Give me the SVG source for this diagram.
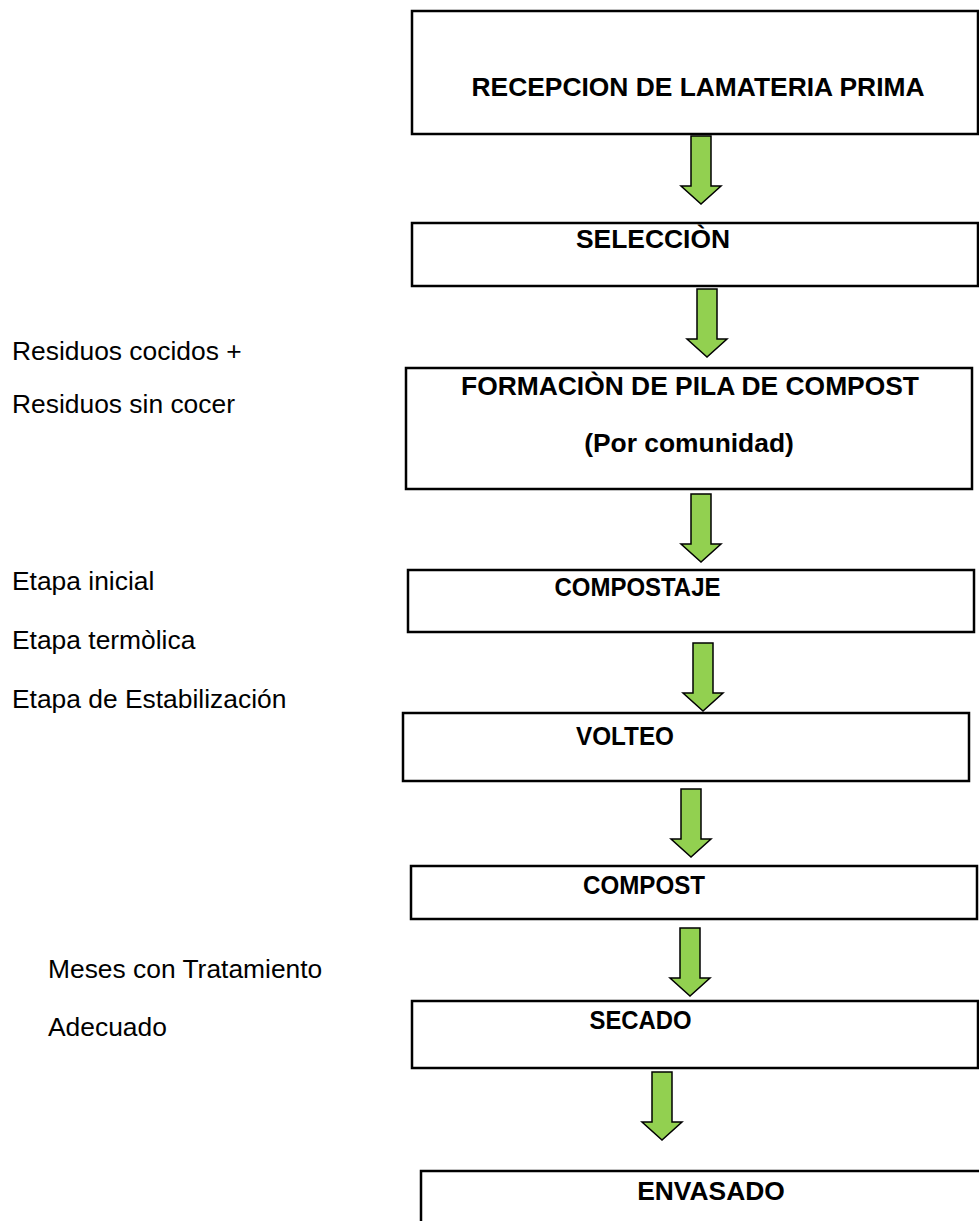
<svg xmlns="http://www.w3.org/2000/svg" width="979" height="1221" viewBox="0 0 979 1221">
<style>
.box{fill:#fff;stroke:#000;stroke-width:2.5}
.t{font-family:"Liberation Sans",Arial,sans-serif;font-size:26.4px;font-weight:bold;fill:#000;text-anchor:middle}
.l{font-family:"Liberation Sans",Arial,sans-serif;font-size:26.4px;fill:#000}
.arr{fill:#92d050;stroke:#000;stroke-width:1.5;stroke-linejoin:miter}
</style>
<defs>
<path id="ar" d="M-10,0 H10 V50 H20 L0,68 L-20,50 H-10 Z"/>
</defs>
<rect width="979" height="1221" fill="#fff"/>
<g id="connectors">
<use href="#ar" class="arr" x="701" y="136"/>
<use href="#ar" class="arr" x="707" y="289"/>
<use href="#ar" class="arr" x="701" y="494"/>
<use href="#ar" class="arr" x="703" y="643"/>
<use href="#ar" class="arr" x="691" y="789"/>
<use href="#ar" class="arr" x="690" y="928"/>
<use href="#ar" class="arr" x="662" y="1072"/>
</g>
<g id="n1"><rect class="box" x="412" y="11" width="566" height="123"/><text class="t" x="698" y="96">RECEPCION DE LAMATERIA PRIMA</text></g>
<g id="n2"><rect class="box" x="412" y="223" width="566" height="63"/><text class="t" x="653" y="248">SELECCIÒN</text></g>
<g id="n3"><rect class="box" x="406" y="368" width="566" height="121"/><text class="t" x="690" y="395">FORMACIÒN DE PILA DE COMPOST</text><text class="t" x="689" y="452">(Por comunidad)</text></g>
<g id="n4"><rect class="box" x="408" y="570" width="566" height="62"/><text class="t" x="637.5" y="596" textLength="166" lengthAdjust="spacingAndGlyphs">COMPOSTAJE</text></g>
<g id="n5"><rect class="box" x="403" y="713" width="566" height="68"/><text class="t" x="625" y="745" textLength="98" lengthAdjust="spacingAndGlyphs">VOLTEO</text></g>
<g id="n6"><rect class="box" x="411" y="866" width="566" height="53"/><text class="t" x="644" y="894" textLength="122" lengthAdjust="spacingAndGlyphs">COMPOST</text></g>
<g id="n7"><rect class="box" x="412" y="1001" width="566" height="67"/><text class="t" x="640.5" y="1029" textLength="102" lengthAdjust="spacingAndGlyphs">SECADO</text></g>
<g id="n8"><rect class="box" x="421" y="1171" width="570" height="70"/><text class="t" x="711" y="1200">ENVASADO</text></g>
<g id="notes">
<text class="l" x="12" y="360">Residuos cocidos +</text>
<text class="l" x="12" y="413">Residuos sin cocer</text>
<text class="l" x="12" y="590">Etapa inicial</text>
<text class="l" x="12" y="649">Etapa termòlica</text>
<text class="l" x="12" y="708">Etapa de Estabilización</text>
<text class="l" x="48" y="978">Meses con Tratamiento</text>
<text class="l" x="48" y="1036">Adecuado</text>
</g>
</svg>
